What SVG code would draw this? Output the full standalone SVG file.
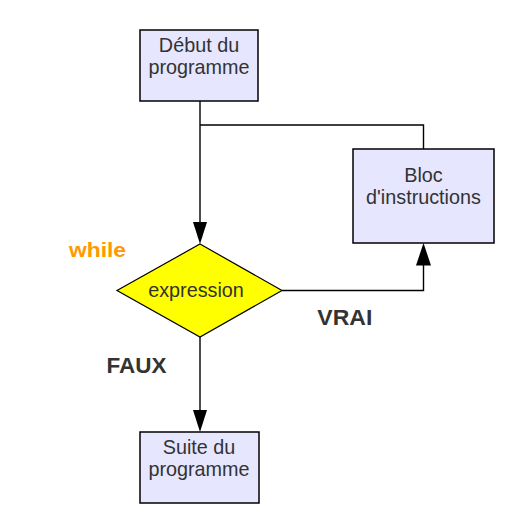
<svg xmlns="http://www.w3.org/2000/svg" width="516" height="518" viewBox="0 0 516 518">
<style>
.box{fill:#e6e6ff;stroke:#000;stroke-width:1.5}
.dia{fill:#ffff00;stroke:#000;stroke-width:1.2}
.t{font-family:"Liberation Sans",Arial,sans-serif;font-size:19.8px;fill:#333333;text-anchor:middle}
.lbl{font-family:"Liberation Sans",Arial,sans-serif;font-size:21.5px;font-weight:bold;fill:#333333}
.wh{font-family:"Liberation Sans",Arial,sans-serif;font-size:20px;font-weight:bold;fill:#ff9900}
.ln{fill:none;stroke:#000;stroke-width:1.4}
.ah{fill:#000}
</style>
<rect width="516" height="518" fill="#ffffff"/>
<g id="connectors">
<polyline class="ln" points="200,101 200,224"/>
<polyline class="ln" points="200,125 423.5,125 423.5,149"/>
<polyline class="ln" points="282,290.5 423.5,290.5 423.5,263"/>
<polyline class="ln" points="200,337 200,412"/>
<polygon class="ah" points="193,222 207,222 200,244"/>
<polygon class="ah" points="416,265.5 431,265.5 423.5,243"/>
<polygon class="ah" points="193,410 207,410 200,432"/>
</g>
<g id="debut">
<rect class="box" x="140" y="30" width="118" height="71"/>
<text class="t" x="199" y="52">Début du</text>
<text class="t" x="199" y="73.5">programme</text>
</g>
<g id="bloc">
<rect class="box" x="353" y="149" width="141" height="94"/>
<text class="t" x="423.5" y="182">Bloc</text>
<text class="t" x="423.5" y="204">d'instructions</text>
</g>
<g id="expression">
<polygon class="dia" points="200,244 282,290.5 200,337 117,290.5"/>
<text class="t" x="196" y="297">expression</text>
</g>
<g id="suite">
<rect class="box" x="140" y="432" width="119" height="71"/>
<text class="t" x="199" y="454">Suite du</text>
<text class="t" x="199" y="476">programme</text>
</g>
<g id="labels">
<text class="wh" x="69" y="257" textLength="57" lengthAdjust="spacingAndGlyphs">while</text>
<text class="lbl" x="106.5" y="373.3" textLength="60" lengthAdjust="spacingAndGlyphs">FAUX</text>
<text class="lbl" x="317.3" y="325" textLength="55" lengthAdjust="spacingAndGlyphs">VRAI</text>
</g>
</svg>
